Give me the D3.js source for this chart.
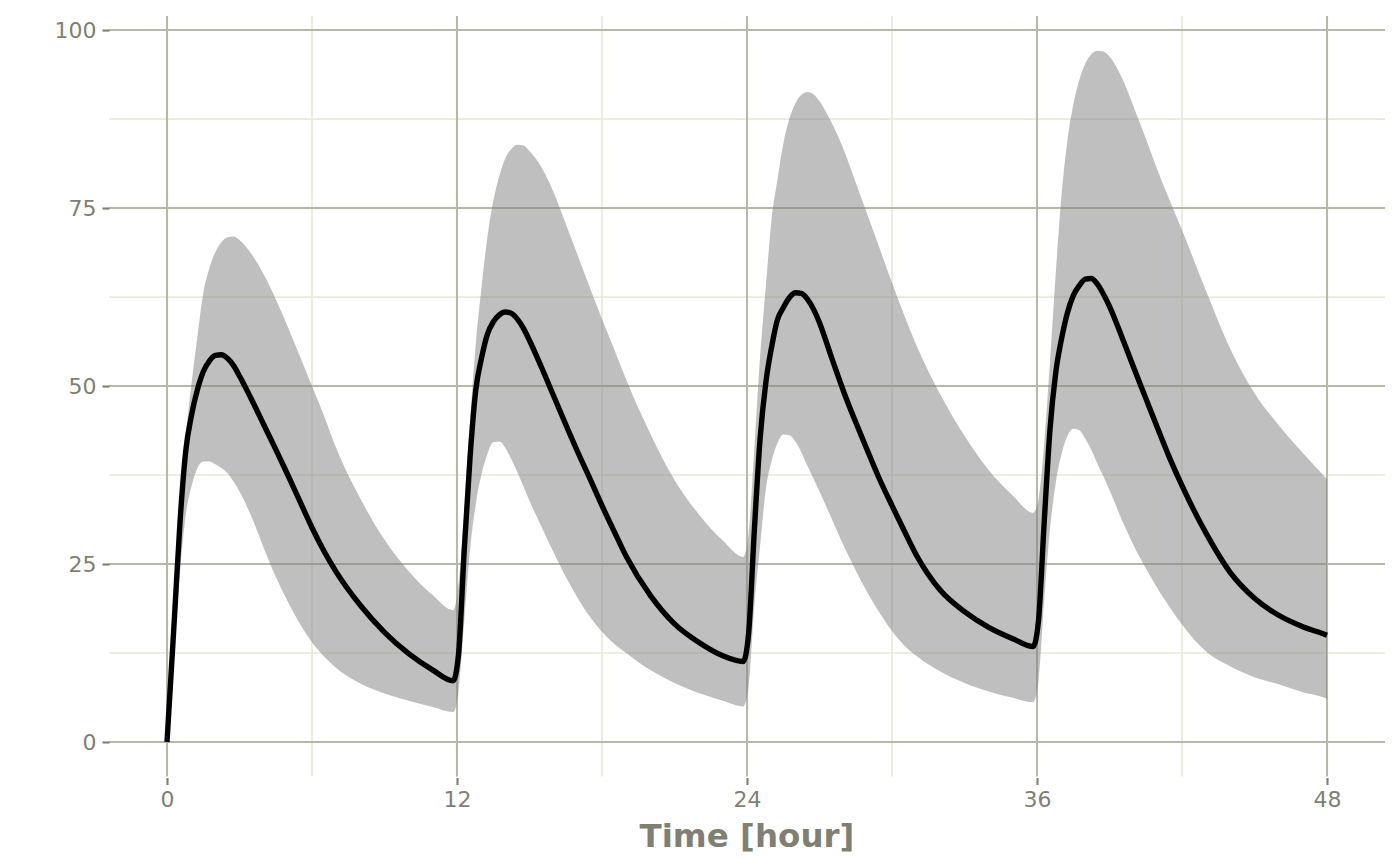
<!DOCTYPE html>
<html>
<head>
<meta charset="utf-8">
<script src="https://cdn.jsdelivr.net/npm/d3@7"></script>
<style>
	html, body { margin: 0; padding: 0; background: #fff; }
	svg { display: block; font-family: "DejaVu Sans", sans-serif; }
</style>
</head>
<body>
<script>
// Simulated concentration profile, q12h dosing.
var time = [
	0, 0.3, 0.54, 0.78, 1.02, 1.26, 1.5, 1.75, 2, 2.25, 2.5, 2.75, 3, 3.5, 4, 4.5, 5, 5.5, 6, 6.5, 7, 8, 9, 10, 11, 11.84,
	12.06, 12.3, 12.54, 12.78, 13.02, 13.26, 13.5, 13.75, 14, 14.25, 14.5, 14.75, 15, 15.5, 16, 16.5, 17, 17.5, 18, 18.5, 19, 20, 21, 22, 23, 23.84,
	24.06, 24.3, 24.54, 24.78, 25.02, 25.26, 25.5, 25.75, 26, 26.25, 26.5, 26.75, 27, 27.5, 28, 28.5, 29, 29.5, 30, 30.5, 31, 32, 33, 34, 35, 35.84,
	36.06, 36.3, 36.54, 36.78, 37.02, 37.26, 37.5, 37.75, 38, 38.25, 38.5, 38.75, 39, 39.5, 40, 40.5, 41, 41.5, 42, 42.5, 43, 44, 45, 46, 47, 47.84, 48
];

var median = [
	0, 17, 31, 41, 46, 49.5, 52, 53.5, 54.3, 54.4, 53.9, 52.9, 51.4, 48.1, 44.6, 41.1, 37.5, 33.8, 30.1, 26.8, 23.9, 19.2, 15.4, 12.4, 10.1, 8.6,
	12.2, 27, 40, 49.5, 54, 57.3, 59, 60, 60.4, 60.2, 59.4, 58.1, 56.4, 52.6, 48.6, 44.6, 40.7, 37, 33.2, 29.6, 26.1, 20.6, 16.6, 14, 12.1, 11.3,
	15, 29.5, 42.5, 50.5, 55.5, 59.3, 61, 62.4, 63.1, 63, 62.2, 60.8, 58.9, 54, 49.2, 44.9, 40.8, 36.8, 33.2, 29.7, 26.3, 21.3, 18.3, 16.1, 14.5, 13.4,
	17, 31, 44, 52, 56.7, 60.3, 62.7, 64.1, 65, 65.1, 64.3, 62.9, 61.2, 57, 52.6, 48.3, 44, 39.8, 36, 32.5, 29.3, 23.8, 20.2, 17.8, 16.2, 15.2, 15.0
];

var upper = [
	0, 19, 33, 43, 50.5, 57, 63, 66.5, 68.8, 70.2, 70.9, 71, 70.5, 68.5, 65.7, 62.2, 58.3, 54.2, 50, 45.8, 41.3, 34.2, 28.4, 24, 20.6, 18.5,
	22, 32, 45, 56, 64, 71, 76, 79.5, 82, 83.3, 83.9, 83.8, 83, 80.7, 77.2, 72.8, 68.3, 63.8, 59.4, 55.2, 50.9, 43.3, 36.8, 32, 28.3, 26,
	29, 41, 54, 64, 73.5, 79, 84, 87.5, 89.7, 90.9, 91.3, 91, 90, 87, 83.2, 78.6, 73.9, 69.2, 64.5, 60, 55.8, 48.8, 43, 38.2, 34.6, 32.2,
	34, 42, 53.5, 66, 77, 84.5, 89.5, 93, 95.3, 96.6, 97.1, 97, 96.3, 93.4, 89.2, 84.8, 80.2, 76, 71.9, 67.6, 63.3, 55.2, 49, 44.5, 40.6, 37.5, 36.9
];

var lower = [
	0, 13, 24, 32, 36, 38.5, 39.4, 39.4, 39, 38.5, 37.8, 36.6, 35.2, 31.6, 27.3, 23.2, 19.7, 16.6, 14, 12, 10.4, 8.2, 6.8, 5.8, 4.9, 4.2,
	7, 17, 27, 33.5, 37.7, 40.5, 42.1, 42.2, 41.3, 39.7, 37.9, 35.9, 33.9, 30.2, 26.6, 23.2, 20.2, 17.6, 15.5, 13.8, 12.5, 10.1, 8.3, 6.9, 5.8, 5.0,
	7.5, 19, 27.5, 35.5, 39.5, 42, 43.2, 43.1, 42.2, 40.7, 38.8, 37, 35.2, 31.4, 27.6, 24.1, 20.9, 18.1, 15.6, 13.6, 12.1, 9.9, 8.3, 7.1, 6.2, 5.6,
	8.5, 20, 30, 36.5, 40.5, 43, 44, 43.8, 42.6, 41, 39.1, 37.3, 35.4, 31.3, 27.6, 24.4, 21.5, 18.9, 16.5, 14.4, 12.7, 10.6, 9.1, 8.1, 7.0, 6.3, 6.1
];

var xMajor = [0, 12, 24, 36, 48];
var xMinor = [6, 18, 30, 42];
var yMajor = [0, 25, 50, 75, 100];
var yMinor = [12.5, 37.5, 62.5, 87.5];
var xTitle = 'Time [hour]';

var width = 1400, height = 865;
var panel = {left: 109, right: 1385, top: 16.1, bottom: 776.6};
var axisGrey = '#7f7f73';

document.addEventListener('DOMContentLoaded', function() {
	var rows = time.map(function(t, i) {
		return {t: t, med: median[i], lo: lower[i], hi: upper[i]};
	});

	var svg = d3.select('body').append('svg')
		.attr('width', width)
		.attr('height', height);

	// ggplot-style 5% expansion on both axes.
	var x = d3.scaleLinear().domain([-2.4, 50.4]).range([panel.left, panel.right]);
	var y = d3.scaleLinear().domain([-4.86, 101.96]).range([panel.bottom, panel.top]);

	var grid = svg.append('g').attr('class', 'grid');

	// Minor grid first, majors on top.
	grid.selectAll('line.xminor').data(xMinor).enter().append('line')
		.attr('x1', function(d) { return x(d); }).attr('x2', function(d) { return x(d); })
		.attr('y1', panel.top).attr('y2', panel.bottom)
		.attr('stroke', '#e9e9dc').attr('stroke-width', 1.7);
	grid.selectAll('line.yminor').data(yMinor).enter().append('line')
		.attr('y1', function(d) { return y(d); }).attr('y2', function(d) { return y(d); })
		.attr('x1', panel.left).attr('x2', panel.right)
		.attr('stroke', '#e9e9dc').attr('stroke-width', 1.7);
	grid.selectAll('line.xmajor').data(xMajor).enter().append('line')
		.attr('x1', function(d) { return x(d); }).attr('x2', function(d) { return x(d); })
		.attr('y1', panel.top).attr('y2', panel.bottom)
		.attr('stroke', '#b8b8aa').attr('stroke-width', 2.1);
	grid.selectAll('line.ymajor').data(yMajor).enter().append('line')
		.attr('y1', function(d) { return y(d); }).attr('y2', function(d) { return y(d); })
		.attr('x1', panel.left).attr('x2', panel.right)
		.attr('stroke', '#b8b8aa').attr('stroke-width', 2.1);

	// Prediction interval.
	var band = d3.area()
		.x(function(d) { return x(d.t); })
		.y0(function(d) { return y(d.lo); })
		.y1(function(d) { return y(d.hi); })
		.curve(d3.curveMonotoneX);

	svg.append('path')
		.datum(rows)
		.attr('d', band)
		.attr('fill', '#7f7f7f')
		.attr('fill-opacity', 0.5);

	var line = d3.line()
		.x(function(d) { return x(d.t); })
		.y(function(d) { return y(d.med); })
		.curve(d3.curveMonotoneX);

	svg.append('path')
		.datum(rows)
		.attr('d', line)
		.attr('fill', 'none')
		.attr('stroke', '#000')
		.attr('stroke-width', 5.4)
		.attr('stroke-linejoin', 'round');

	// Axes.
	var xAxis = d3.axisBottom(x).tickValues(xMajor).tickSizeInner(7).tickSizeOuter(0).tickPadding(6);
	var yAxis = d3.axisLeft(y).tickValues(yMajor).tickSizeInner(7).tickSizeOuter(0).tickPadding(6);

	var gx = svg.append('g')
		.attr('transform', 'translate(0,' + (panel.bottom + 1.4) + ')')
		.call(xAxis);
	var gy = svg.append('g')
		.attr('transform', 'translate(' + (panel.left + 0.5) + ',0)')
		.call(yAxis);

	[gx, gy].forEach(function(g) {
		g.select('.domain').remove();
		g.selectAll('.tick line').attr('stroke', axisGrey).attr('stroke-width', 2.1);
		g.selectAll('.tick text')
			.attr('fill', axisGrey)
			.style('font-family', '"DejaVu Sans", sans-serif')
			.style('font-size', '22px');
	});

	svg.append('text')
		.attr('x', (panel.left + panel.right) / 2)
		.attr('y', 847)
		.attr('text-anchor', 'middle')
		.attr('fill', axisGrey)
		.style('font-size', '32.5px')
		.style('font-weight', 'bold')
		.text(xTitle);
});
</script>
</body>
</html>
